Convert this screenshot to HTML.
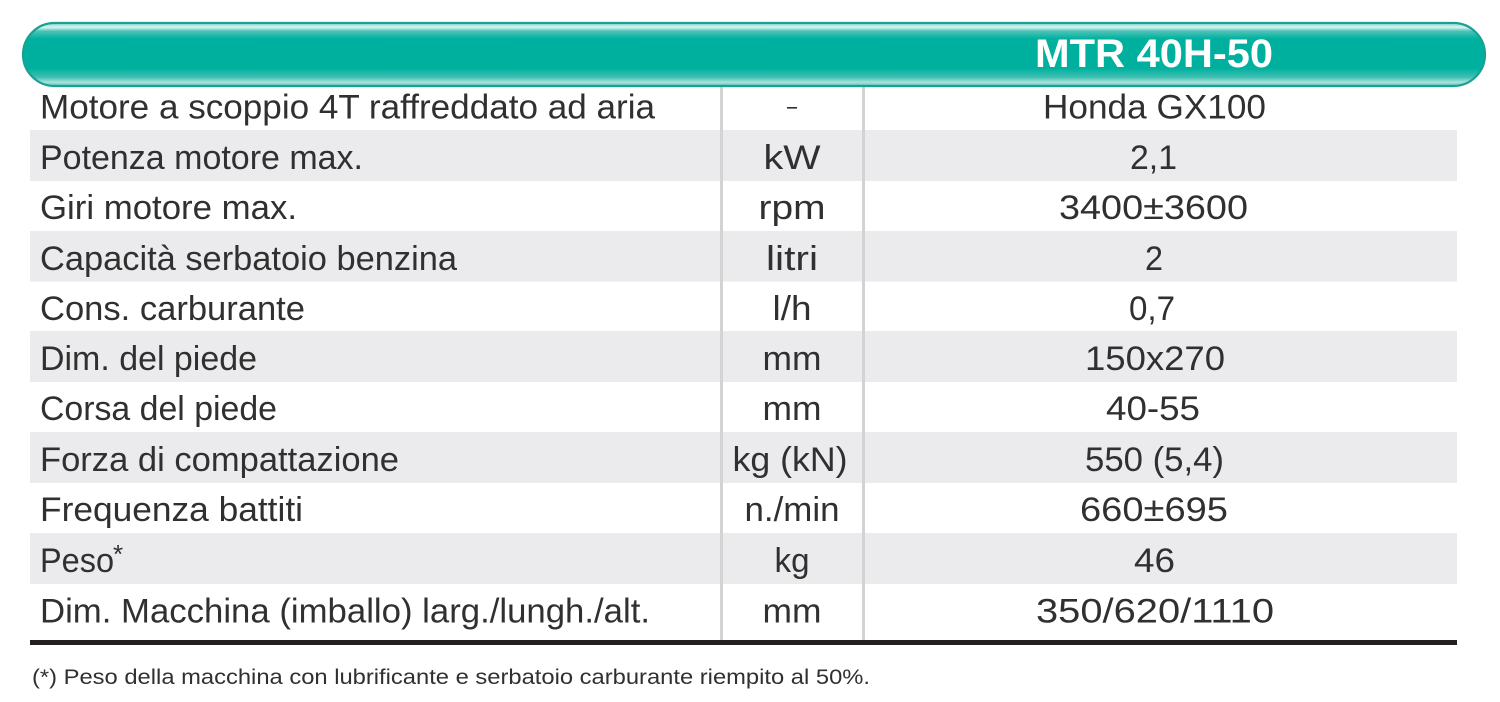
<!DOCTYPE html>
<html>
<head>
<meta charset="utf-8">
<style>
  html,body{margin:0;padding:0;background:#fff;}
  svg{display:block;}
  .t{font-family:"Liberation Sans",sans-serif;font-size:34px;fill:#303030;}
  .c{text-anchor:middle;}
</style>
</head>
<body>
<svg width="1500" height="702" viewBox="0 0 1500 702" xmlns="http://www.w3.org/2000/svg">
  <defs>
    <linearGradient id="pill" x1="0" y1="0" x2="0" y2="1">
      <stop offset="0" stop-color="#8fdad1"/>
      <stop offset="0.07" stop-color="#d8f3ef"/>
      <stop offset="0.13" stop-color="#4cc3b6"/>
      <stop offset="0.25" stop-color="#00b09f"/>
      <stop offset="0.72" stop-color="#00b09f"/>
      <stop offset="0.86" stop-color="#3ebfb1"/>
      <stop offset="0.94" stop-color="#a9e3db"/>
      <stop offset="1" stop-color="#5cc7bb"/>
    </linearGradient>
  </defs>

  <!-- stripes -->
  <rect x="30" y="130" width="1427" height="51" fill="#ebebed"/>
  <rect x="30" y="231" width="1427" height="50.5" fill="#ebebed"/>
  <rect x="30" y="331" width="1427" height="51" fill="#ebebed"/>
  <rect x="30" y="432" width="1427" height="51" fill="#ebebed"/>
  <rect x="30" y="533" width="1427" height="51" fill="#ebebed"/>

  <!-- vertical separators -->
  <rect x="720" y="86" width="3" height="554" fill="#d3d3d3"/>
  <rect x="862" y="86" width="3" height="554" fill="#d3d3d3"/>

  <!-- bottom rule -->
  <rect x="30" y="640" width="1427" height="5" fill="#231f20"/>

  <!-- header pill -->
  <rect x="23" y="23" width="1462" height="63" rx="31.5" ry="31.5" fill="url(#pill)" stroke="#18a193" stroke-width="2.2"/>
  <text x="1154" y="67" text-anchor="middle" textLength="238" lengthAdjust="spacingAndGlyphs"
        style="font-family:'Liberation Sans',sans-serif;font-weight:bold;font-size:40px;fill:#ffffff;">MTR 40H-50</text>

  <!-- column 1 -->
  <text class="t" x="40" y="118.5" textLength="615" lengthAdjust="spacingAndGlyphs">Motore a scoppio 4T raffreddato ad aria</text>
  <text class="t" x="40" y="169" textLength="323" lengthAdjust="spacingAndGlyphs">Potenza motore max.</text>
  <text class="t" x="40" y="219" textLength="257" lengthAdjust="spacingAndGlyphs">Giri motore max.</text>
  <text class="t" x="40" y="270" textLength="417" lengthAdjust="spacingAndGlyphs">Capacità serbatoio benzina</text>
  <text class="t" x="40" y="320" textLength="265" lengthAdjust="spacingAndGlyphs">Cons. carburante</text>
  <text class="t" x="40" y="370" textLength="217" lengthAdjust="spacingAndGlyphs">Dim. del piede</text>
  <text class="t" x="40" y="420" textLength="237" lengthAdjust="spacingAndGlyphs">Corsa del piede</text>
  <text class="t" x="40" y="471" textLength="359" lengthAdjust="spacingAndGlyphs">Forza di compattazione</text>
  <text class="t" x="40" y="521" textLength="263" lengthAdjust="spacingAndGlyphs">Frequenza battiti</text>
  <text class="t" x="40" y="572" textLength="74" lengthAdjust="spacingAndGlyphs">Peso</text>
  <text class="t" x="113" y="563" style="font-size:26px;">*</text>
  <text class="t" x="40" y="622.5" textLength="610" lengthAdjust="spacingAndGlyphs">Dim. Macchina (imballo) larg./lungh./alt.</text>

  <!-- column 2 -->
  <rect x="787" y="107" width="10" height="1.6" fill="#303030"/>
  <text class="t c" x="792" y="169" textLength="57" lengthAdjust="spacingAndGlyphs">kW</text>
  <text class="t c" x="792" y="219" textLength="67" lengthAdjust="spacingAndGlyphs">rpm</text>
  <text class="t c" x="792" y="270" textLength="52" lengthAdjust="spacingAndGlyphs">litri</text>
  <text class="t c" x="792" y="320" textLength="39" lengthAdjust="spacingAndGlyphs">l/h</text>
  <text class="t c" x="792" y="370" textLength="59" lengthAdjust="spacingAndGlyphs">mm</text>
  <text class="t c" x="792" y="420" textLength="59" lengthAdjust="spacingAndGlyphs">mm</text>
  <text class="t c" x="790" y="471" textLength="115" lengthAdjust="spacingAndGlyphs">kg (kN)</text>
  <text class="t c" x="792" y="521" textLength="95" lengthAdjust="spacingAndGlyphs">n./min</text>
  <text class="t c" x="792" y="572" textLength="35" lengthAdjust="spacingAndGlyphs">kg</text>
  <text class="t c" x="792" y="622.5" textLength="59" lengthAdjust="spacingAndGlyphs">mm</text>

  <!-- column 3 -->
  <text class="t c" x="1154.5" y="118.5" textLength="223" lengthAdjust="spacingAndGlyphs">Honda GX100</text>
  <text class="t c" x="1153.5" y="169" textLength="47" lengthAdjust="spacingAndGlyphs">2,1</text>
  <text class="t c" x="1153.5" y="219" textLength="189" lengthAdjust="spacingAndGlyphs">3400±3600</text>
  <text class="t c" x="1154" y="270" textLength="18" lengthAdjust="spacingAndGlyphs">2</text>
  <text class="t c" x="1152" y="320" textLength="46" lengthAdjust="spacingAndGlyphs">0,7</text>
  <text class="t c" x="1155" y="370" textLength="140" lengthAdjust="spacingAndGlyphs">150x270</text>
  <text class="t c" x="1153" y="420" textLength="94" lengthAdjust="spacingAndGlyphs">40-55</text>
  <text class="t c" x="1154.5" y="471" textLength="139" lengthAdjust="spacingAndGlyphs">550 (5,4)</text>
  <text class="t c" x="1154" y="521" textLength="148" lengthAdjust="spacingAndGlyphs">660±695</text>
  <text class="t c" x="1154.5" y="572" textLength="41" lengthAdjust="spacingAndGlyphs">46</text>
  <text class="t c" x="1155" y="622.5" textLength="238" lengthAdjust="spacingAndGlyphs">350/620/1110</text>

  <!-- footnote -->
  <text x="32" y="684" textLength="838" lengthAdjust="spacingAndGlyphs"
        style="font-family:'Liberation Sans',sans-serif;font-size:21px;fill:#303030;">(*) Peso della macchina con lubrificante e serbatoio carburante riempito al 50%.</text>
</svg>
</body>
</html>
